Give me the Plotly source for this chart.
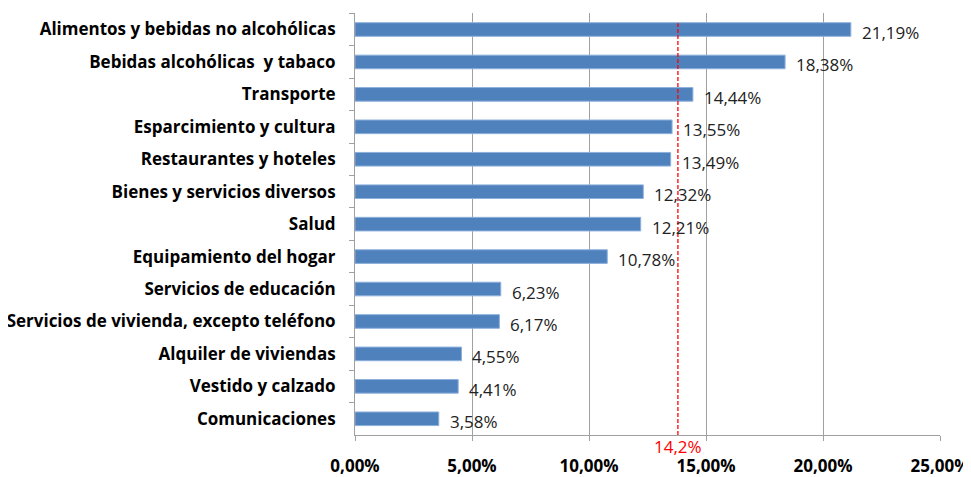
import plotly.graph_objects as go

categories = [
    "Alimentos y bebidas no alcohólicas",
    "Bebidas alcohólicas  y tabaco",
    "Transporte",
    "Esparcimiento y cultura",
    "Restaurantes y hoteles",
    "Bienes y servicios diversos",
    "Salud",
    "Equipamiento del hogar",
    "Servicios de educación",
    "Servicios de vivienda, excepto teléfono",
    "Alquiler de viviendas",
    "Vestido y calzado",
    "Comunicaciones",
]
values = [21.19, 18.38, 14.44, 13.55, 13.49, 12.32, 12.21, 10.78, 6.23, 6.17, 4.55, 4.41, 3.58]
ref_label = "14,2%"
ref_position = 13.8
tick_vals = [0, 5, 10, 15, 20, 25]
tick_text = ["0,00%", "5,00%", "10,00%", "15,00%", "20,00%", "25,00%"]

labels = [f"{v:.2f}".replace(".", ",") + "%" for v in values]
FONT = "Open Sans"

fig = go.Figure()
fig.add_trace(go.Bar(
    y=categories, x=values, orientation="h",
    marker=dict(color="#4F81BD", line=dict(color="#8DB0DC", width=1)),
))

for c, v, t in zip(categories, values, labels):
    fig.add_annotation(x=v, y=c, xref="x", yref="y", text=t, showarrow=False,
                       xanchor="left", xshift=9, yshift=-3,
                       font=dict(family=FONT, size=17, color="#222222"))

fig.add_shape(type="line", xref="x", yref="paper", x0=ref_position, x1=ref_position,
              y0=0, y1=0.976, line=dict(color="#FF0000", width=1.3, dash="4px,2px"))
fig.add_annotation(x=ref_position, xref="x", y=0, yref="paper", yanchor="top",
                   text=ref_label, showarrow=False, yshift=2,
                   font=dict(family=FONT, size=17, color="#FF0000"))

fig.update_layout(
    width=971, height=477,
    margin=dict(l=347, r=39, t=5, b=50),
    plot_bgcolor="white", paper_bgcolor="white",
    showlegend=False, bargap=0.58,
    xaxis=dict(range=[0, 25], tickvals=tick_vals, ticktext=tick_text, automargin=False,
               showgrid=True, gridcolor="#A0A0A0", gridwidth=1,
               showline=True, linecolor="#A0A0A0", linewidth=1,
               ticks="outside", ticklen=5, tickcolor="#A0A0A0",
               ticklabelstandoff=11, zeroline=False,
               tickfont=dict(family=FONT, size=17, color="#000000", weight="bold")),
    yaxis=dict(autorange="reversed", showline=True, linecolor="#A0A0A0", linewidth=1,
               automargin=False,
               ticks="outside", ticklen=5, tickcolor="#A0A0A0", tickson="boundaries",
               ticklabelstandoff=15,
               tickfont=dict(family=FONT, size=17, color="#000000", weight="bold")),
)

fig.write_html("out.html")
